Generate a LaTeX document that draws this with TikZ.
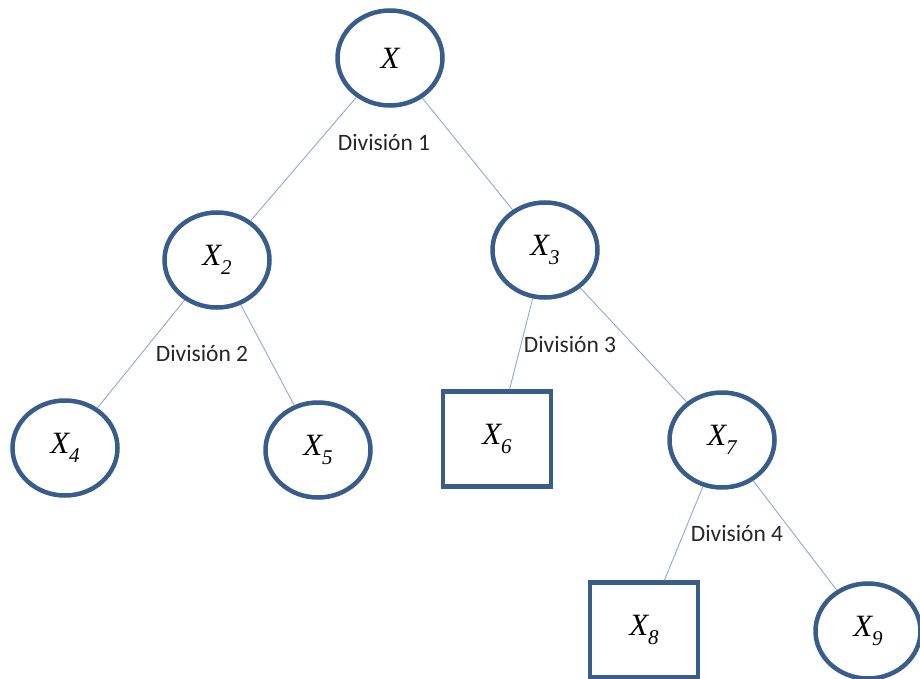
\documentclass[tikz,border=0pt]{standalone}
\usepackage{fontspec}
\setmainfont{Liberation Serif}
\newfontfamily\labelfont{Carlito}
\usetikzlibrary{shapes.geometric}
\definecolor{nodeblue}{RGB}{56,93,138}
\definecolor{edgeblue}{RGB}{140,170,210}
% italic X with a lowered, smaller index
\newcommand{\Xsub}[1]{X\raisebox{-0.28em}{\fontsize{21}{21}\selectfont #1}}
\tikzset{
  leafround/.style={ellipse, draw=nodeblue, line width=4.5pt, fill=white,
    minimum width=105pt, minimum height=95pt, inner sep=0pt,
    font=\fontsize{31}{31}\selectfont\itshape},
  leafsquare/.style={rectangle, draw=nodeblue, line width=4.5pt, fill=white,
    minimum width=108pt, minimum height=95pt, inner sep=0pt,
    font=\fontsize{31}{31}\selectfont\itshape},
  branch/.style={draw=edgeblue, line width=0.9pt},
  splitlabel/.style={font=\labelfont\fontsize{23.5}{23.5}\selectfont, text=black!85, inner sep=1pt}
}
\begin{document}
\begin{tikzpicture}[x=1pt,y=-1pt]
  \useasboundingbox (0,0) rectangle (920,679);

  % tree nodes
  \node[leafround] (x)  at (390,58)  {X};
  \node[leafround] (x2) at (217,260) {\Xsub{2}};
  \node[leafround] (x3) at (545,250) {\Xsub{3}};
  \node[leafround] (x4) at (65,448)  {\Xsub{4}};
  \node[leafround] (x5) at (318,450) {\Xsub{5}};
  \node[leafsquare] (x6) at (497,439) {\Xsub{6}};
  \node[leafround] (x7) at (722,440) {\Xsub{7}};
  \node[leafsquare] (x8) at (644,630) {\Xsub{8}};
  \node[leafround] (x9) at (868,631) {\Xsub{9}};

  % branches
  \draw[branch] (x) -- (x2);
  \draw[branch] (x) -- (x3);
  \draw[branch] (x2) -- (x4);
  \draw[branch] (x2) -- (x5);
  \draw[branch] (x3) -- (x6);
  \draw[branch] (x3) -- (x7);
  \draw[branch] (x7) -- (x8);
  \draw[branch] (x7) -- (x9);

  % split labels
  \node[splitlabel] (d1) at (384,143) {División 1};
  \node[splitlabel] (d2) at (202,353) {División 2};
  \node[splitlabel] (d3) at (570,344) {División 3};
  \node[splitlabel] (d4) at (737,533) {División 4};
\end{tikzpicture}
\end{document}
